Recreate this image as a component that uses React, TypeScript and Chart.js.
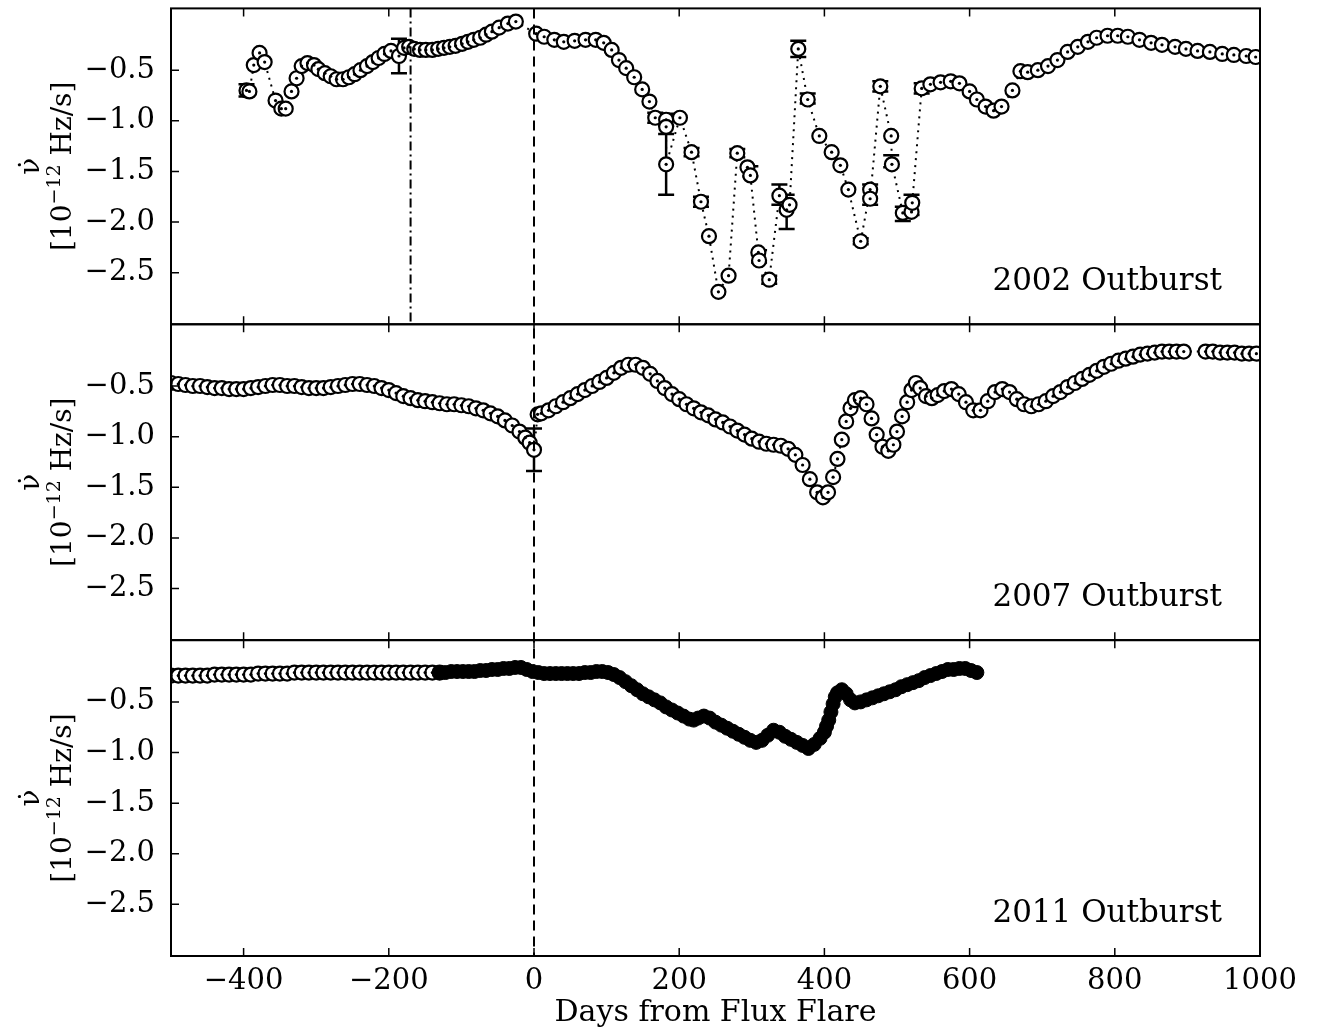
import { useEffect, useRef } from 'react';
import { Chart, registerables } from 'chart.js';

Chart.register(...registerables);

const FONT = "'DejaVu Serif', serif";

// [day, nu-dot]
const outburst2002: [number, number][] = [
  [-396, -0.70], [-392, -0.71], [-386, -0.45], [-378, -0.33], [-371, -0.42], [-356, -0.80], [-348, -0.88],
  [-342, -0.88], [-334, -0.71], [-327, -0.58], [-320, -0.46], [-312, -0.43], [-303, -0.45], [-297, -0.49],
  [-288, -0.53], [-280, -0.56], [-272, -0.59], [-263, -0.59], [-255, -0.57], [-247, -0.54], [-239, -0.50],
  [-230, -0.46], [-222, -0.42], [-214, -0.38], [-206, -0.34], [-197, -0.31], [-186, -0.36], [-179, -0.28],
  [-172, -0.27], [-165, -0.29], [-157, -0.30], [-149, -0.30], [-140, -0.30], [-132, -0.29], [-124, -0.28],
  [-116, -0.27], [-108, -0.26], [-99, -0.24], [-91, -0.22], [-83, -0.20], [-74, -0.18], [-66, -0.15],
  [-58, -0.12], [-48, -0.08], [-36, -0.04], [-25, -0.02],
  [3, -0.14], [14, -0.17], [28, -0.20], [41, -0.22], [56, -0.21], [71, -0.20], [85, -0.20], [96, -0.23],
  [107, -0.30], [117, -0.40], [127, -0.48], [138, -0.57], [149, -0.69], [159, -0.81], [167, -0.97],
  [182, -0.99], [182, -1.06], [182, -1.43], [201, -0.97], [217, -1.31], [230, -1.80], [241, -2.14],
  [254, -2.69], [268, -2.53], [280, -1.32], [294, -1.46], [298, -1.54], [309, -2.30], [310, -2.38],
  [324, -2.57], [338, -1.74], [348, -1.88], [352, -1.83], [364, -0.29], [377, -0.79], [393, -1.15],
  [410, -1.31], [422, -1.44], [433, -1.68], [450, -2.19], [463, -1.68], [463, -1.77], [477, -0.66],
  [492, -1.15], [493, -1.43], [508, -1.91], [520, -1.90], [521, -1.81], [534, -0.68], [546, -0.64],
  [560, -0.62], [574, -0.61], [586, -0.63], [600, -0.71], [610, -0.79], [622, -0.86], [633, -0.90],
  [644, -0.86], [659, -0.70], [670, -0.51], [680, -0.52], [694, -0.50], [708, -0.46], [721, -0.40],
  [735, -0.32], [749, -0.27], [763, -0.22], [775, -0.18], [790, -0.16], [804, -0.16], [818, -0.17],
  [834, -0.20], [850, -0.23], [865, -0.25], [883, -0.27], [898, -0.29], [914, -0.31], [931, -0.32],
  [948, -0.34], [964, -0.35], [981, -0.36], [994, -0.37],
];

const outburst2007: [number, number][] = [
  [-500, -0.47], [-490, -0.48], [-480, -0.49], [-470, -0.50], [-460, -0.50], [-450, -0.51], [-440, -0.52],
  [-430, -0.52], [-420, -0.53], [-410, -0.53], [-400, -0.53], [-390, -0.52], [-380, -0.51], [-370, -0.50],
  [-360, -0.49], [-350, -0.49], [-340, -0.50], [-330, -0.50], [-320, -0.51], [-310, -0.52], [-300, -0.52],
  [-290, -0.52], [-280, -0.51], [-270, -0.50], [-260, -0.49], [-250, -0.48], [-240, -0.48], [-230, -0.49],
  [-220, -0.50], [-210, -0.52], [-200, -0.54], [-190, -0.57], [-180, -0.60], [-170, -0.62], [-160, -0.64],
  [-150, -0.65], [-140, -0.66], [-130, -0.67], [-120, -0.68], [-110, -0.68], [-100, -0.69], [-90, -0.70],
  [-80, -0.72], [-70, -0.74], [-60, -0.77], [-50, -0.80], [-40, -0.84], [-30, -0.89], [-20, -0.95],
  [-12, -1.01], [-6, -1.06], [0, -1.13],
  [5, -0.78], [10, -0.77], [20, -0.74], [30, -0.70], [40, -0.66], [50, -0.62], [60, -0.58], [70, -0.54],
  [80, -0.50], [90, -0.46], [100, -0.42], [110, -0.37], [120, -0.32], [130, -0.29], [140, -0.29],
  [150, -0.32], [160, -0.38], [170, -0.45], [180, -0.52], [190, -0.58], [200, -0.63], [210, -0.68],
  [220, -0.72], [230, -0.76], [240, -0.79], [250, -0.83], [260, -0.86], [270, -0.90], [280, -0.94],
  [290, -0.98], [300, -1.02], [310, -1.05], [320, -1.07], [330, -1.08], [340, -1.09], [350, -1.12],
  [360, -1.18], [370, -1.28], [380, -1.42], [390, -1.55], [398, -1.60], [405, -1.55], [412, -1.40],
  [418, -1.22], [424, -1.03], [430, -0.85], [436, -0.72], [442, -0.64], [450, -0.62], [458, -0.68],
  [465, -0.82], [472, -0.98], [480, -1.10], [488, -1.14], [495, -1.08], [500, -0.95], [507, -0.80],
  [514, -0.66], [520, -0.54], [526, -0.47], [532, -0.52], [540, -0.60], [548, -0.62], [556, -0.59],
  [565, -0.55], [575, -0.53], [585, -0.58], [595, -0.66], [605, -0.74], [615, -0.74], [625, -0.65],
  [635, -0.56], [645, -0.53], [655, -0.56], [665, -0.63], [675, -0.68], [685, -0.70], [695, -0.68],
  [705, -0.65], [715, -0.60], [725, -0.56], [735, -0.51], [745, -0.47], [755, -0.43], [765, -0.39],
  [775, -0.35], [785, -0.31], [795, -0.28], [805, -0.25], [815, -0.23], [825, -0.21], [835, -0.19],
  [845, -0.18], [855, -0.17], [865, -0.16], [875, -0.16], [885, -0.16], [895, -0.16], [925, -0.16],
  [935, -0.16], [945, -0.17], [955, -0.17], [965, -0.17], [975, -0.18], [985, -0.18], [995, -0.18],
];

const outburst2011Open: [number, number][] = [
  [-500, -0.24], [-490, -0.24], [-480, -0.24], [-470, -0.24], [-460, -0.24], [-450, -0.24], [-440, -0.23],
  [-430, -0.23], [-420, -0.23], [-410, -0.23], [-400, -0.23], [-390, -0.23], [-380, -0.22], [-370, -0.22],
  [-360, -0.22], [-350, -0.22], [-340, -0.22], [-330, -0.21], [-320, -0.21], [-310, -0.21], [-300, -0.21],
  [-290, -0.21], [-280, -0.21], [-270, -0.21], [-260, -0.21], [-250, -0.21], [-240, -0.21], [-230, -0.21],
  [-220, -0.21], [-210, -0.21], [-200, -0.21], [-190, -0.21], [-180, -0.21], [-170, -0.21], [-160, -0.21],
  [-150, -0.21], [-140, -0.21], [-130, -0.21],
];

const outburst2011Filled: [number, number][] = [
  [-130, -0.21], [-122, -0.21], [-114, -0.20], [-106, -0.20], [-98, -0.20], [-90, -0.20], [-82, -0.20],
  [-74, -0.19], [-66, -0.19], [-58, -0.18], [-50, -0.18], [-42, -0.17], [-34, -0.17], [-26, -0.16],
  [-18, -0.16], [-10, -0.18], [-2, -0.20], [6, -0.21], [14, -0.22], [22, -0.22], [30, -0.22], [38, -0.22],
  [46, -0.22], [54, -0.22], [62, -0.22], [70, -0.21], [78, -0.21], [86, -0.20], [94, -0.20], [102, -0.21],
  [110, -0.23], [118, -0.26], [126, -0.30], [134, -0.34], [142, -0.38], [150, -0.42], [158, -0.45],
  [166, -0.48], [174, -0.51], [182, -0.55], [190, -0.58], [198, -0.61], [206, -0.64], [214, -0.67],
  [220, -0.68], [226, -0.66], [234, -0.64], [242, -0.66], [250, -0.70], [258, -0.73], [266, -0.76],
  [274, -0.79], [282, -0.82], [290, -0.85], [298, -0.88], [306, -0.90], [314, -0.88], [322, -0.83],
  [330, -0.78], [338, -0.80], [346, -0.84], [354, -0.87], [362, -0.90], [370, -0.93], [378, -0.96],
  [386, -0.92], [394, -0.86], [400, -0.80], [403, -0.74], [406, -0.68], [409, -0.60], [412, -0.52],
  [415, -0.45], [418, -0.41], [424, -0.38], [430, -0.42], [436, -0.48], [442, -0.51], [450, -0.50],
  [458, -0.48], [466, -0.46], [474, -0.44], [482, -0.42], [490, -0.40], [498, -0.38], [506, -0.35],
  [514, -0.33], [522, -0.31], [530, -0.29], [538, -0.26], [546, -0.24], [554, -0.22], [562, -0.20],
  [570, -0.18], [578, -0.18], [586, -0.17], [594, -0.17], [602, -0.19], [610, -0.21],
];

// [day, value, error]
const errors2002: [number, number, number][] = [
  [-396, -0.70, 0.06], [-186, -0.36, 0.17], [167, -0.97, 0.05], [182, -0.99, 0.06], [182, -1.43, 0.30],
  [217, -1.31, 0.04], [230, -1.80, 0.05], [280, -1.32, 0.04], [298, -1.50, 0.05], [310, -2.34, 0.06],
  [324, -2.57, 0.04], [338, -1.73, 0.10], [348, -1.90, 0.17], [364, -0.29, 0.08], [377, -0.78, 0.05],
  [450, -2.19, 0.03], [463, -1.73, 0.10], [477, -0.66, 0.05], [492, -1.40, 0.06], [508, -1.92, 0.07],
  [520, -1.83, 0.10], [534, -0.68, 0.05],
];
const errors2007: [number, number, number][] = [[0, -1.13, 0.21]];

const panelLabels = ['2002 Outburst', '2007 Outburst', '2011 Outburst'];
const xTicks = [-400, -200, 0, 200, 400, 600, 800, 1000];
const yTicks = [-2.5, -2.0, -1.5, -1.0, -0.5];

const pts = (a: [number, number][]) => a.map(([x, y]) => ({ x, y }));
const minus = (v: number, d: number) => v.toFixed(d).replace('-', '\u2212');

export default function App() {
  const ref = useRef<HTMLCanvasElement>(null);

  useEffect(() => {
    document.body.style.margin = '0';
    if (!ref.current) return;

    const openSet = (data: [number, number][], axis: string, line: boolean) => [
      {
        data: pts(data), yAxisID: axis, showLine: line, borderColor: '#000', borderWidth: 2,
        borderDash: [2, 5], pointRadius: 7, pointBorderWidth: 2.2, pointBackgroundColor: '#fff',
        pointBorderColor: '#000', order: 2,
      },
      {
        data: pts(data), yAxisID: axis, showLine: false, pointRadius: 1.6, pointBorderWidth: 0,
        pointBackgroundColor: '#000', order: 1,
      },
    ];

    const yAxis = () => ({
      type: 'linear' as const, position: 'left' as const, stack: 'panels', stackWeight: 1,
      min: -3.01, max: 0.11, grid: { display: false, drawTicks: false }, border: { display: false },
      afterBuildTicks: (s: any) => { s.ticks = yTicks.map(v => ({ value: v })); },
      afterFit: (s: any) => { s.width = 171; },
      ticks: { color: '#000', font: { family: FONT, size: 29 }, padding: 16, callback: (v: any) => minus(Number(v), 1) },
    });

    const frame = {
      id: 'frame',
      beforeDatasetsDraw(chart: any) {
        const { ctx, scales } = chart;
        const x = scales.x;
        ctx.save();
        ctx.strokeStyle = '#000';
        ctx.lineWidth = 2.5;
        const bars = (s: any, list: [number, number, number][]) => list.forEach(([d, v, e]) => {
          const px = x.getPixelForValue(d);
          const a = s.getPixelForValue(v - e), b = s.getPixelForValue(v + e);
          ctx.beginPath();
          ctx.moveTo(px, a); ctx.lineTo(px, b);
          ctx.moveTo(px - 8, a); ctx.lineTo(px + 8, a);
          ctx.moveTo(px - 8, b); ctx.lineTo(px + 8, b);
          ctx.stroke();
        });
        bars(scales.p1, errors2002);
        bars(scales.p2, errors2007);
        ctx.restore();
      },
      afterDraw(chart: any) {
        const { ctx, chartArea: ca, scales } = chart;
        const x = scales.x;
        const panels = [scales.p1, scales.p2, scales.p3];
        ctx.save();
        ctx.strokeStyle = '#000';
        ctx.fillStyle = '#000';
        ctx.lineWidth = 2;
        ctx.setLineDash([10, 6]);
        const x0 = x.getPixelForValue(0);
        ctx.beginPath(); ctx.moveTo(x0, ca.top); ctx.lineTo(x0, ca.bottom); ctx.stroke();
        ctx.setLineDash([9, 4, 2, 4]);
        const xd = x.getPixelForValue(-170);
        ctx.beginPath(); ctx.moveTo(xd, panels[0].top); ctx.lineTo(xd, panels[0].bottom); ctx.stroke();
        ctx.setLineDash([]);
        panels.forEach((s, i) => {
          ctx.lineWidth = 2;
          ctx.strokeRect(ca.left, s.top, ca.right - ca.left, s.bottom - s.top);
          ctx.lineWidth = 1.5;
          ctx.beginPath();
          xTicks.forEach(t => {
            const px = x.getPixelForValue(t);
            ctx.moveTo(px, s.bottom); ctx.lineTo(px, s.bottom - 8);
            ctx.moveTo(px, s.top); ctx.lineTo(px, s.top + 8);
          });
          yTicks.forEach(t => {
            const py = s.getPixelForValue(t);
            ctx.moveTo(ca.left, py); ctx.lineTo(ca.left + 8, py);
          });
          ctx.stroke();
          ctx.font = `31px ${FONT}`;
          ctx.textAlign = 'right';
          ctx.textBaseline = 'middle';
          ctx.fillText(panelLabels[i], 1222, s.bottom - 42);
          const cy = (s.top + s.bottom) / 2;
          ctx.save();
          ctx.translate(0, cy);
          ctx.rotate(-Math.PI / 2);
          ctx.textAlign = 'center';
          ctx.font = `28px ${FONT}`;
          ctx.fillText('\u03BD\u0307', 0, 32);
          const p1 = '[10', p2 = '\u221212', p3 = ' Hz/s]';
          const w1 = ctx.measureText(p1).width, w3 = ctx.measureText(p3).width;
          ctx.font = `19px ${FONT}`;
          const w2 = ctx.measureText(p2).width;
          let sx = -(w1 + w2 + w3) / 2;
          ctx.textAlign = 'left';
          ctx.font = `28px ${FONT}`;
          ctx.fillText(p1, sx, 64); sx += w1;
          ctx.font = `19px ${FONT}`;
          ctx.fillText(p2, sx, 55); sx += w2;
          ctx.font = `28px ${FONT}`;
          ctx.fillText(p3, sx, 64);
          ctx.restore();
        });
        ctx.restore();
      },
    };

    const chart = new Chart(ref.current, {
      type: 'scatter',
      data: {
        datasets: [
          ...openSet(outburst2002, 'p1', true),
          ...openSet(outburst2007, 'p2', true),
          ...openSet(outburst2011Open, 'p3', false),
          {
            data: pts(outburst2011Filled), yAxisID: 'p3', showLine: false, pointRadius: 7,
            pointBorderWidth: 1, pointBackgroundColor: '#000', pointBorderColor: '#000', order: 1,
          },
        ] as any,
      },
      options: {
        animation: false,
        responsive: true,
        maintainAspectRatio: false,
        layout: { padding: { left: 0, right: 59, top: 0, bottom: 0 } },
        plugins: { legend: { display: false }, tooltip: { enabled: false } },
        scales: {
          x: {
            type: 'linear', min: -500, max: 1000,
            grid: { display: false, drawTicks: false }, border: { display: false },
            afterBuildTicks: (s: any) => { s.ticks = xTicks.map(v => ({ value: v })); },
            afterFit: (s: any) => { s.height = 79; },
            ticks: { color: '#000', font: { family: FONT, size: 29 }, padding: 8, maxRotation: 0, callback: (v: any) => minus(Number(v), 0) },
            title: { display: true, text: 'Days from Flux Flare', color: '#000', font: { family: FONT, size: 30 }, padding: { top: 0 } },
          },
          // stacked axes are laid out bottom-first
          p3: yAxis(),
          p2: yAxis(),
          p1: yAxis(),
        } as any,
      },
      plugins: [frame],
    });

    return () => chart.destroy();
  }, []);

  return (
    <div style={{ width: 1319, height: 1035, overflow: 'hidden' }}>
      <div style={{ width: 1319, height: 1060, marginTop: -25, position: 'relative' }}>
        <canvas ref={ref} />
      </div>
    </div>
  );
}
